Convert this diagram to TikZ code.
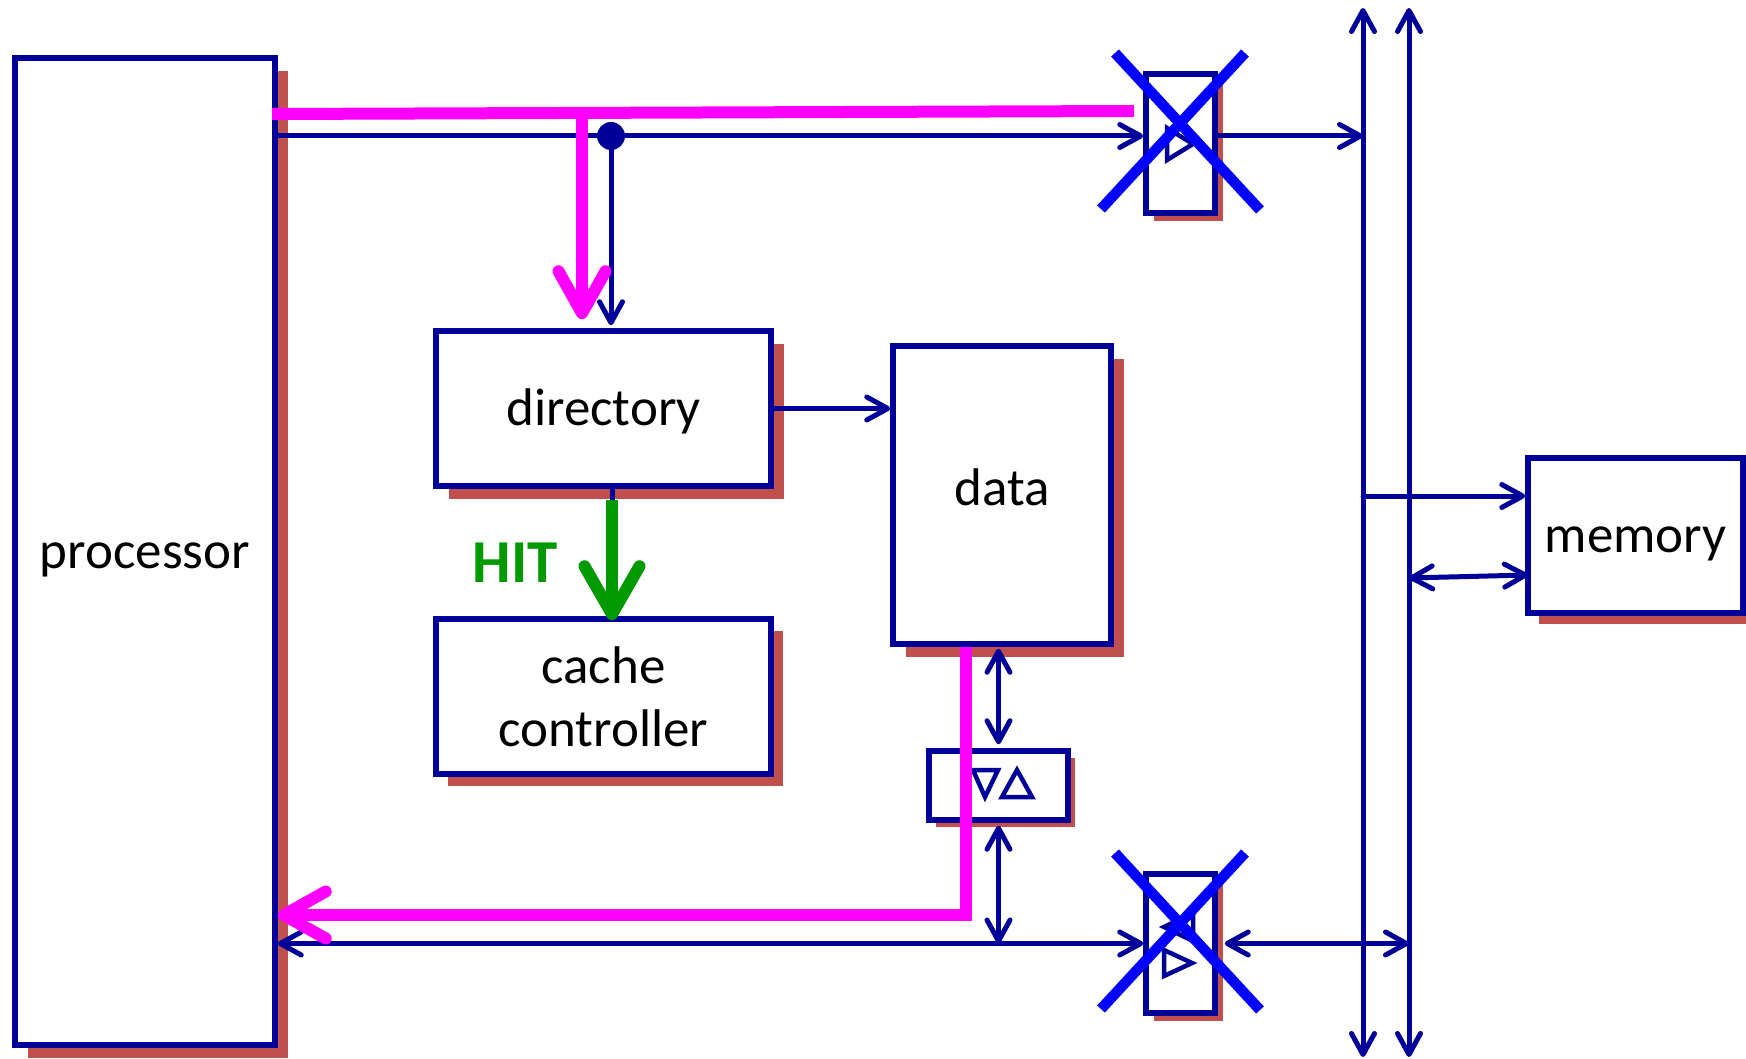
\documentclass[tikz,border=0pt]{standalone}
\usepackage{fontspec}
\setmainfont{Carlito}
\usetikzlibrary{arrows.meta,shadows}
\definecolor{navy}{RGB}{0,0,153}
\definecolor{shad}{RGB}{192,80,77}
\definecolor{mag}{RGB}{255,0,255}
\definecolor{grn}{RGB}{0,153,0}
\definecolor{xblue}{RGB}{0,0,255}
\begin{document}
\begin{tikzpicture}[x=1pt,y=-1pt,
  >={Straight Barb[length=21pt,width=23pt,round]},
  box/.style={draw=navy,line width=5.5pt,fill=white,rectangle,inner sep=0pt,
    font=\fontsize{53}{63}\selectfont,align=center},
  onetext/.style={text height=40pt,text depth=6pt},
  sh/.style={drop shadow={shadow xshift=#1,shadow yshift=-#1,fill=shad,opacity=1}},
  wire/.style={draw=navy,line width=5pt,line cap=round},
  magline/.style={draw=mag,line width=12pt,
    -{Straight Barb[length=42pt,width=47pt,round]}},
  xline/.style={draw=xblue,line width=10.5pt},
  tristyle/.style={draw=navy,line width=4.5pt,line join=miter}]
\useasboundingbox (0,0) rectangle (1746,1059);

% boxes
\node[box,onetext,sh=13pt,minimum width=260pt,minimum height=987pt] (proc) at (145,551.5) {processor};
\node[box,onetext,sh=13pt,minimum width=335pt,minimum height=155pt] (dir) at (603.5,408.5) {directory};
\node[box,sh=12pt,minimum width=335pt,minimum height=155pt] (cc) at (603.5,696.5) {cache\\controller};
\node[box,sh=13pt,text height=30pt,text depth=10pt,minimum width=218pt,minimum height=298pt] (data) at (1002,495) {data};
\node[box,sh=7pt,minimum width=139pt,minimum height=69pt] (tri) at (998.5,785.5) {};
\node[box,sh=8pt,minimum width=69pt,minimum height=139pt] (sw1) at (1180.5,143.5) {};
\node[box,sh=8pt,minimum width=69pt,minimum height=139pt] (sw2) at (1180.5,943.5) {};
\node[box,onetext,sh=11pt,minimum width=215pt,minimum height=155pt] (mem) at (1635.5,535.5) {memory};

% triangles
\draw[tristyle] (1167,128) -- (1193,144) -- (1167,160) -- cycle;
\draw[tristyle] (1193,913) -- (1164,927) -- (1193,941) -- cycle;
\draw[tristyle] (1164,950) -- (1192,963) -- (1164,976) -- cycle;
\draw[tristyle] (973,770) -- (998,770) -- (985,797) -- cycle;
\draw[tristyle] (1002,797) -- (1032,797) -- (1017,770) -- cycle;

% coordinates
\coordinate (dot) at (611,136);
\coordinate (blt) at (1363,8);
\coordinate (blb) at (1363,1057);
\coordinate (brt) at (1409,8);
\coordinate (brb) at (1409,1057);
\coordinate (m1) at (1363,496);
\coordinate (m2) at (1409,578);
\coordinate (m3) at (1528,575);
\coordinate (ma) at (272,114);
\coordinate (mb) at (1134,111);
\coordinate (mj) at (582,113.5);
\coordinate (mr) at (966,915);

% buses
\draw[wire,<->] (blb) -- (blt);
\draw[wire,<->] (brb) -- (brt);

% address path
\draw[wire,->] (proc.east |- dot) -- (sw1.west |- dot);
\draw[wire,->,shorten >=3pt] (dot) -- (dot |- dir.north);
\draw[wire,->] (sw1.east |- dot) -- (blt |- dot);
\fill[navy] (dot) circle[radius=14pt];

\draw[wire,->] (dir.east) -- (data.west |- dir.east);
\draw[wire] ([xshift=8.5pt]dir.south) -- ([xshift=8.5pt]dir.south |- cc.north);

\draw[wire,<->,shorten <=2pt,shorten >=4pt] (tri.north |- data.south) -- (tri.north);
\draw[wire,<->,shorten <=3pt] (tri.south) -- (tri.south |- sw2.west);

\draw[wire,<->] (proc.east |- sw2.west) -- (sw2.west);
\draw[wire,<->] ([xshift=7pt]sw2.east) -- (brb |- sw2.east);

\draw[wire,->] (m1) -- (mem.west |- m1);
\draw[wire,<->] (m2) -- (m3);

% magenta
\draw[draw=mag,line width=12pt] (ma) -- (mb);
\draw[magline,shorten >=9pt] (mj) -- (mj |- dir.north);
\draw[magline,line join=miter] (data.south -| mr) -- (mr) -- (proc.east |- mr);

% green HIT
\draw[draw=grn,line width=12pt,-{Straight Barb[length=48pt,width=55pt,round]}]
  ([xshift=8.5pt,yshift=-11pt]dir.south) -- ([xshift=8.5pt,yshift=-4pt]dir.south |- cc.north);
\node[text=grn,font=\fontsize{61}{70}\selectfont\bfseries] (hit) at (515,563) {HIT};

% crosses
\draw[xline] (1115,53) -- (1260,210);
\draw[xline] (1245,53) -- (1101,209);
\draw[xline] (1115,853) -- (1260,1010);
\draw[xline] (1245,853) -- (1101,1009);
\end{tikzpicture}
\end{document}
